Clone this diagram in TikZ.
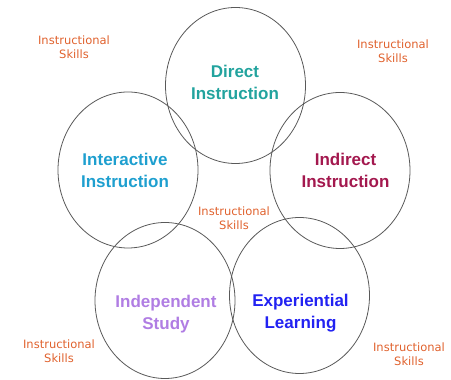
\documentclass[tikz,border=0pt]{standalone}
\usepackage{fontspec}
\setmainfont{Liberation Sans}
\newfontfamily\skillfont{DejaVu Sans}
\usetikzlibrary{shapes.geometric}
\definecolor{directcol}{HTML}{22A39E}
\definecolor{interactcol}{HTML}{1E9FCF}
\definecolor{indirectcol}{HTML}{A3184E}
\definecolor{independcol}{HTML}{B07DE3}
\definecolor{experiencecol}{HTML}{2222F2}
\definecolor{skillcol}{HTML}{E0622E}

\begin{document}
\begin{tikzpicture}[x=1pt, y=1pt,
    ring/.style={draw=black!65, line width=0.8pt, ellipse, minimum width=140pt, minimum height=156pt, inner sep=0pt},
    method/.style={font=\fontsize{17}{22}\selectfont\bfseries, align=center},
    skill/.style={font=\skillfont\fontsize{11.5}{14}\selectfont, text=skillcol, align=center}]
    \useasboundingbox (0, 0) rectangle (451, 380);
    \node[ring] (direct) at (235.5, 294.5) {};
    \node[ring] (interact) at (128, 210) {};
    \node[ring] (indirect) at (340, 209.5) {};
    \node[ring] (independ) at (165, 79.5) {};
    \node[ring] (experience) at (299.5, 84.5) {};
    \node[method, text=directcol] (directlbl) at (235, 298) {Direct\\Instruction};
    \node[method, text=interactcol] (interactlbl) at (125, 210) {Interactive\\Instruction};
    \node[method, text=indirectcol] (indirectlbl) at (345.5, 210) {Indirect\\Instruction};
    \node[method, text=independcol] (independlbl) at (166, 66) {Independent\\Study};
    \node[method, text=experiencecol] (experiencelbl) at (300.5, 67) {Experiential\\Learning};
    \node[skill] (skilltl) at (74, 333) {Instructional\\Skills};
    \node[skill] (skilltr) at (393, 329) {Instructional\\Skills};
    \node[skill] (skillmid) at (234, 162) {Instructional\\Skills};
    \node[skill] (skillbl) at (59, 29) {Instructional\\Skills};
    \node[skill] (skillbr) at (409, 26) {Instructional\\Skills};
\end{tikzpicture}
\end{document}
